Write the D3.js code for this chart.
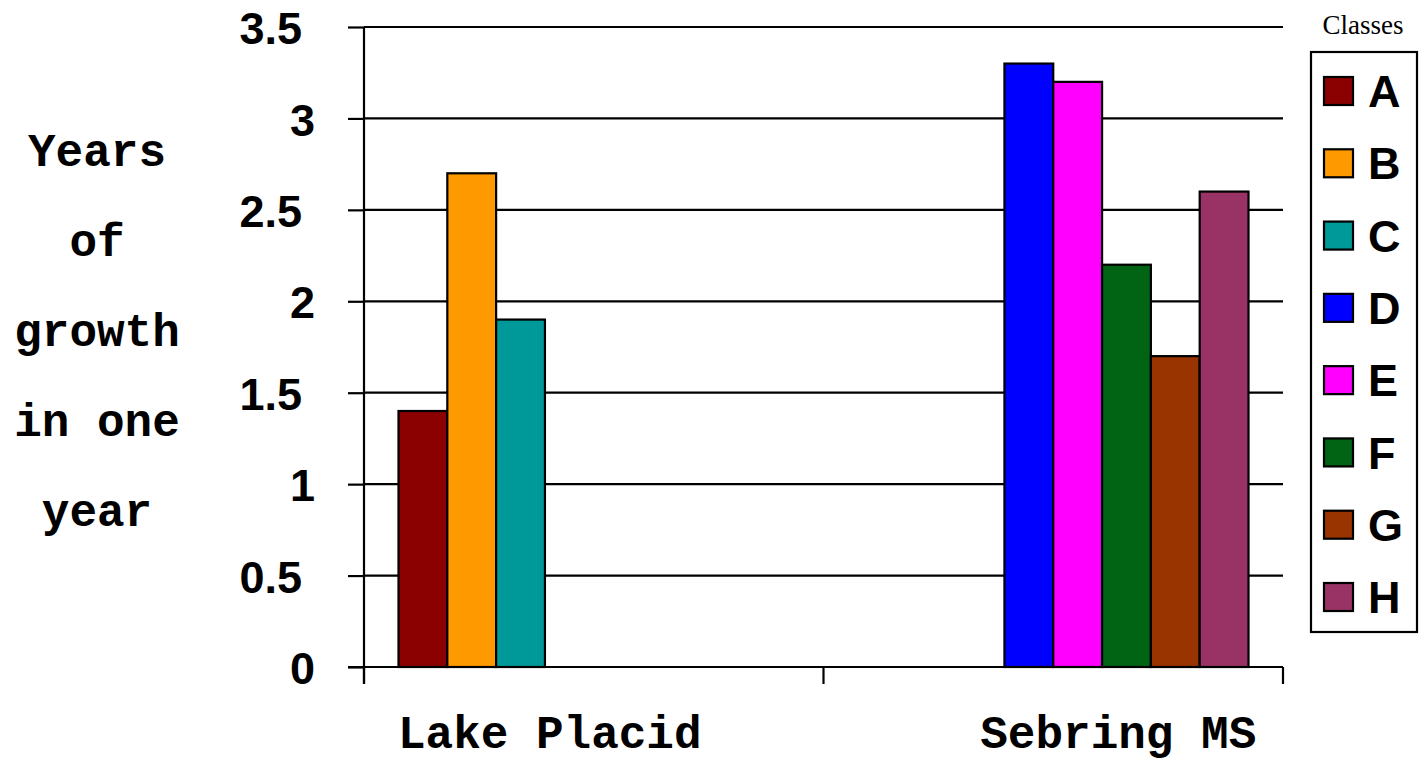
<!DOCTYPE html>
<html>
<head>
<meta charset="utf-8">
<script src="https://cdn.jsdelivr.net/npm/d3@7"></script>
<style>
  html, body { margin: 0; padding: 0; background: #fff; }
  svg { display: block; }
</style>
</head>
<body>
<svg id="chart" width="1427" height="761"></svg>
<script>
// ---- data ----
const categories = ["Lake Placid", "Sebring MS"];
const seriesNames = ["A", "B", "C", "D", "E", "F", "G", "H"];
const seriesColors = ["#8B0000", "#FF9900", "#009999", "#0000FF", "#FF00FF", "#006414", "#993300", "#993366"];
const lakePlacidValues = [1.4, 2.7, 1.9, null, null, null, null, null];
const sebringValues = [null, null, null, 3.3, 3.2, 2.2, 1.7, 2.6];
const yTicks = [0, 0.5, 1, 1.5, 2, 2.5, 3, 3.5];
const yTitleLines = ["Years", "of", "growth", "in one", "year"];
const legendTitle = "Classes";

const valuesByCategory = [lakePlacidValues, sebringValues];

// ---- layout ----
const svg = d3.select("#chart");
const plot = { left: 364, right: 1283, top: 27, bottom: 667 };

const y = d3.scaleLinear().domain([0, 3.5]).range([plot.bottom, plot.top]);
const x0 = d3.scaleBand().domain(categories).range([plot.left, plot.right]).padding(0);
const groupPad = 34.5;
const x1 = d3.scaleBand().domain(seriesNames)
  .range([groupPad, x0.bandwidth() - groupPad]).padding(0);
const color = d3.scaleOrdinal().domain(seriesNames).range(seriesColors);

// gridlines
svg.append("g")
  .selectAll("line")
  .data(yTicks.filter(d => d > 0))
  .join("line")
  .attr("x1", plot.left).attr("x2", plot.right)
  .attr("y1", d => y(d)).attr("y2", d => y(d))
  .attr("stroke", "#000").attr("stroke-width", 2.2);

// bars
const rows = [];
categories.forEach((c, i) => {
  seriesNames.forEach((s, j) => {
    const v = valuesByCategory[i][j];
    if (v != null) rows.push({ cat: c, series: s, value: v });
  });
});
svg.append("g")
  .selectAll("rect")
  .data(rows)
  .join("rect")
  .attr("x", d => x0(d.cat) + x1(d.series))
  .attr("width", x1.bandwidth())
  .attr("y", d => y(d.value))
  .attr("height", d => y(0) - y(d.value))
  .attr("fill", d => color(d.series))
  .attr("stroke", "#000").attr("stroke-width", 2.2);

// y axis
const yAxis = svg.append("g")
  .attr("transform", `translate(${plot.left},0)`)
  .call(d3.axisLeft(y).tickValues(yTicks).tickSize(16).tickSizeOuter(0)
    .tickFormat(d => String(d)));
yAxis.select(".domain").attr("stroke", "#000").attr("stroke-width", 2.2)
  .attr("d", `M0,${plot.top}V${plot.bottom + 17}`);
yAxis.selectAll(".tick line").attr("stroke", "#000").attr("stroke-width", 2.2);
yAxis.selectAll(".tick text")
  .attr("x", d => (d % 1 === 0 ? -49 : -62))
  .attr("dy", "0.37em")
  .attr("fill", "#000")
  .style("font-family", "'Liberation Sans', Arial, sans-serif")
  .style("font-weight", "bold")
  .style("font-size", "45px");

// x axis
const xAxisG = svg.append("g").attr("transform", `translate(0,${plot.bottom})`);
xAxisG.append("line")
  .attr("x1", plot.left - 16).attr("x2", plot.right)
  .attr("stroke", "#000").attr("stroke-width", 2.2);
const xTickPos = categories.map(c => x0(c)).concat([x0(categories[categories.length - 1]) + x0.bandwidth()]);
xAxisG.selectAll("line.xt")
  .data(xTickPos)
  .join("line")
  .attr("class", "xt")
  .attr("x1", d => d).attr("x2", d => d)
  .attr("y1", 0).attr("y2", 17)
  .attr("stroke", "#000").attr("stroke-width", 2.2);

const labelShift = [-44, 65];
svg.append("g")
  .selectAll("text")
  .data(categories)
  .join("text")
  .attr("x", (d, i) => x0(d) + x0.bandwidth() / 2 + labelShift[i])
  .attr("y", 748)
  .attr("text-anchor", "middle")
  .style("font-family", "'Liberation Mono', 'Courier New', monospace")
  .style("font-weight", "bold")
  .style("font-size", "46px")
  .text(d => d);

// y title
svg.append("g")
  .selectAll("text")
  .data(yTitleLines)
  .join("text")
  .attr("x", 97)
  .attr("y", (d, i) => 166 + i * 90)
  .attr("text-anchor", "middle")
  .style("font-family", "'Liberation Mono', 'Courier New', monospace")
  .style("font-weight", "bold")
  .style("font-size", "46px")
  .text(d => d);

// legend
const legend = svg.append("g");
legend.append("text")
  .attr("x", 1363).attr("y", 34)
  .attr("text-anchor", "middle")
  .style("font-family", "'Liberation Serif', 'Times New Roman', serif")
  .style("font-size", "27px")
  .text(legendTitle);
legend.append("rect")
  .attr("x", 1311).attr("y", 52).attr("width", 106).attr("height", 580)
  .attr("fill", "#fff").attr("stroke", "#000").attr("stroke-width", 2.2);
const ly = d3.scalePoint().domain(seriesNames).range([91, 597]);
const items = legend.selectAll("g.item")
  .data(seriesNames)
  .join("g")
  .attr("class", "item")
  .attr("transform", d => `translate(0,${ly(d)})`);
items.append("rect")
  .attr("x", 1324).attr("y", -14).attr("width", 29).attr("height", 28)
  .attr("fill", d => color(d)).attr("stroke", "#000").attr("stroke-width", 2.2);
items.append("text")
  .attr("x", 1368).attr("y", 0).attr("dy", "0.36em")
  .style("font-family", "'Liberation Sans', Arial, sans-serif")
  .style("font-weight", "bold")
  .style("font-size", "45px")
  .text(d => d);
</script>
</body>
</html>
